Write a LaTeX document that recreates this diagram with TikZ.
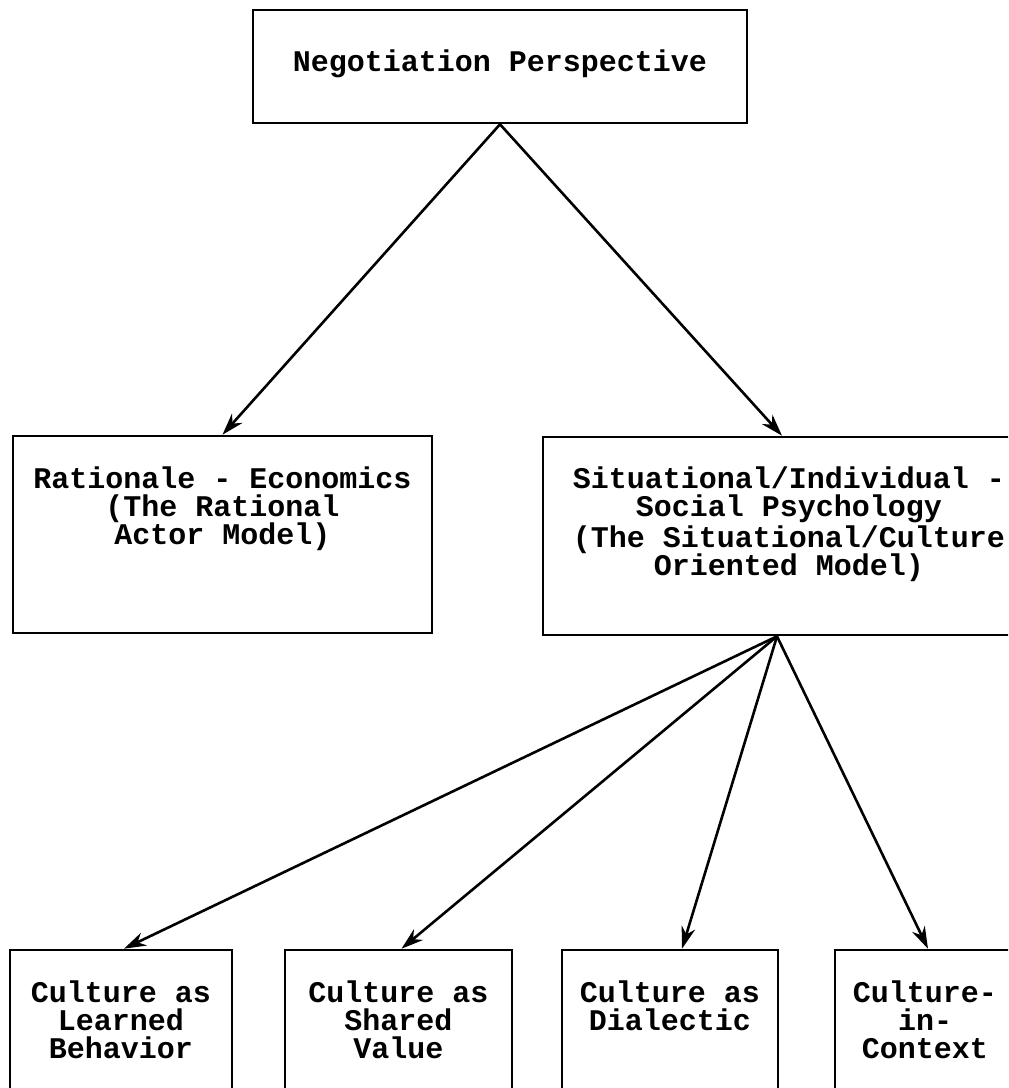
\documentclass[tikz,border=0pt]{standalone}
\usepackage{fontspec}
\setmonofont{Liberation Mono}
\usepackage{tikz}
\usetikzlibrary{arrows.meta,positioning,calc}

\begin{document}
\begin{tikzpicture}[x=0.5pt,y=-0.5pt,
    box/.style={draw,line width=1.3pt,inner sep=0pt},
    txt/.style={font=\ttfamily\bfseries\fontsize{15}{14}\selectfont,align=center,inner sep=0pt},
    arr/.style={-{Stealth[length=11pt,width=7pt,inset=3.5pt]},line width=1.3pt}]
  \useasboundingbox (0,0) rectangle (1008,1088);
  \clip (0,0) rectangle (1008,1088);
  % top level
  \node[box,minimum width=247pt,minimum height=56.5pt] (np) at (500,66.5) {};
  \node[txt] (npT) at ([yshift=-27.5pt]np.north) {Negotiation Perspective};
  % second level
  \node[box,minimum width=209.5pt,minimum height=98.5pt] (rat) at (222.5,534.5) {};
  \node[txt] (ratT) at ([yshift=-37.25pt]rat.north) {Rationale - Economics\\(The Rational\\Actor Model)};
  \node[box,minimum width=246pt,minimum height=99pt] (sit) at (789,536) {};
  \node[txt] (sitT) at ([yshift=-44.25pt]sit.north) {Situational/Individual -\\Social Psychology\\(The Situational/Culture\\Oriented Model)};
  % third level
  \node[box,minimum width=111pt,minimum height=80pt] (lrn) at (121,1030) {};
  \node[txt] (lrnT) at ([yshift=-35.5pt]lrn.north) {Culture as\\Learned\\Behavior};
  \node[box,minimum width=113.5pt,minimum height=80pt] (shv) at (398.5,1030) {};
  \node[txt] (shvT) at ([yshift=-35.5pt]shv.north) {Culture as\\Shared\\Value};
  \node[box,minimum width=108pt,minimum height=80pt] (dia) at (670,1030) {};
  \node[txt] (diaT) at ([yshift=-28.75pt]dia.north) {Culture as\\Dialectic};
  \node[box,minimum width=90pt,minimum height=80pt] (ctx) at (925,1030) {};
  \node[txt] (ctxT) at ([yshift=-35.5pt]ctx.north) {Culture-\\in-\\Context};
  % connectors
  \coordinate (hub) at ([xshift=-6pt]sit.south);
  \draw[arr] (np.south) -- (rat.north);
  \draw[arr] (np.south) -- ([xshift=-3.5pt]sit.north);
  \draw[arr] (hub) -- ([xshift=1.5pt]lrn.north);
  \draw[arr] (hub) -- ([xshift=1.5pt]shv.north);
  \draw[arr] (hub) -- ([xshift=6pt]dia.north);
  \draw[arr] (hub) -- ([xshift=1.5pt]ctx.north);
\end{tikzpicture}
\end{document}
